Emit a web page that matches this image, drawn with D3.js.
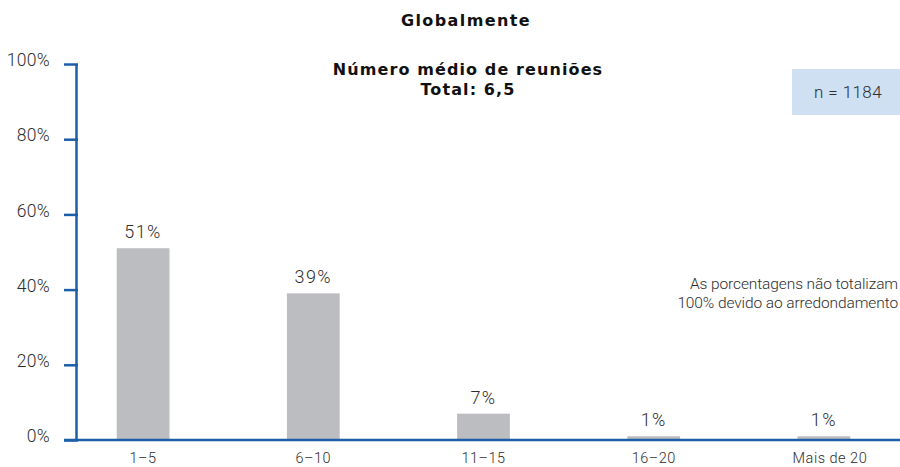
<!DOCTYPE html>
<html><head><meta charset="utf-8">
<script src="https://cdn.jsdelivr.net/npm/d3@7"></script>
<style>
html,body{margin:0;padding:0;background:#fff;}
svg{display:block;}
.lt{font-family:Roboto, "Liberation Sans", Arial, sans-serif;font-weight:300;}
</style></head>
<body>
<svg id="chart" width="900" height="467"></svg>
<script>
const categories = ["1–5", "6–10", "11–15", "16–20", "Mais de 20"];
const values = [51, 39, 7, 1, 1];
const valueLabels = ["51%", "39%", "7%", "1%", "1%"];
const yTicks = [0, 20, 40, 60, 80, 100];
const title = "Globalmente";
const subtitle = ["Número médio de reuniões", "Total: 6,5"];
const sampleText = "n = 1184";
const noteLines = ["As porcentagens não totalizam", "100% devido ao arredondamento"];

const svg = d3.select("#chart");
const blue = "#1d5ea8";
const textCol = "#2e2e2e";
const barCol = "#bcbdc0";

const y = d3.scaleLinear().domain([0, 100]).range([440, 64]);
const x = d3.scaleBand().domain(categories).range([58, 909]).paddingInner(0.69).paddingOuter(0.345);

// bars
svg.append("g").selectAll("rect").data(values).join("rect")
  .attr("x", (d, i) => x(categories[i]))
  .attr("width", x.bandwidth())
  .attr("y", d => y(d))
  .attr("height", d => y(0) - y(d))
  .attr("fill", barCol);

// value labels
svg.append("g").selectAll("text").data(values).join("text")
  .attr("class", "lt")
  .attr("x", (d, i) => x(categories[i]) + x.bandwidth() / 2)
  .attr("y", d => y(d) - 10)
  .attr("text-anchor", "middle")
  .attr("font-size", 18)
  .attr("letter-spacing", 1.4)
  .attr("fill", textCol)
  .text((d, i) => valueLabels[i]);

// y axis
const yAxis = d3.axisLeft(y).tickValues(yTicks).tickSize(14).tickPadding(16).tickFormat(d => d + "%");
const gy = svg.append("g").attr("transform", "translate(78,0)").call(yAxis);
gy.select(".domain").remove();
gy.selectAll(".tick line").attr("stroke", blue).attr("stroke-width", 2.5);
gy.selectAll(".tick text")
  .attr("class", "lt")
  .attr("font-size", 17.5)
  .attr("letter-spacing", 0.3)
  .attr("fill", textCol)
  .attr("dy", "0.1em")
  .attr("dx", 2);

svg.append("line")
  .attr("x1", 76.5).attr("x2", 76.5)
  .attr("y1", y(100)).attr("y2", y(0))
  .attr("stroke", blue).attr("stroke-width", 2.5);
svg.append("line")
  .attr("x1", 64).attr("x2", 900)
  .attr("y1", y(0)).attr("y2", y(0))
  .attr("stroke", blue).attr("stroke-width", 2.5);

// x category labels
svg.append("g").selectAll("text").data(categories).join("text")
  .attr("class", "lt")
  .attr("x", d => x(d) + x.bandwidth() / 2 + (d === "Mais de 20" ? 6 : 0))
  .attr("y", 463)
  .attr("text-anchor", "middle")
  .attr("font-size", 14.5)
  .attr("letter-spacing", 0.5)
  .attr("fill", textCol)
  .text(d => d);

// titles
svg.append("text")
  .attr("x", 466).attr("y", 26)
  .attr("text-anchor", "middle")
  .attr("font-family", "DejaVu Sans, sans-serif")
  .attr("font-weight", "bold")
  .attr("font-size", 16)
  .attr("letter-spacing", 1.4)
  .attr("fill", "#111")
  .text(title);
svg.append("g").selectAll("text").data(subtitle).join("text")
  .attr("x", 468)
  .attr("y", (d, i) => 75 + i * 20)
  .attr("text-anchor", "middle")
  .attr("font-family", "DejaVu Sans, sans-serif")
  .attr("font-weight", "bold")
  .attr("font-size", 16)
  .attr("letter-spacing", 1.1)
  .attr("fill", "#111")
  .text(d => d);

// n box
svg.append("rect").attr("x", 792).attr("y", 69).attr("width", 108).attr("height", 46).attr("fill", "#cfe0f3");
svg.append("text")
  .attr("class", "lt")
  .attr("x", 848).attr("y", 98)
  .attr("text-anchor", "middle")
  .attr("font-size", 17)
  .attr("letter-spacing", 0.4)
  .attr("fill", textCol)
  .text(sampleText);

// note
svg.append("g").selectAll("text").data(noteLines).join("text")
  .attr("class", "lt")
  .attr("x", 898)
  .attr("y", (d, i) => 289 + i * 19)
  .attr("text-anchor", "end")
  .attr("font-size", 15.5)
  .attr("letter-spacing", -0.1)
  .attr("fill", textCol)
  .text(d => d);
</script>
</body></html>
